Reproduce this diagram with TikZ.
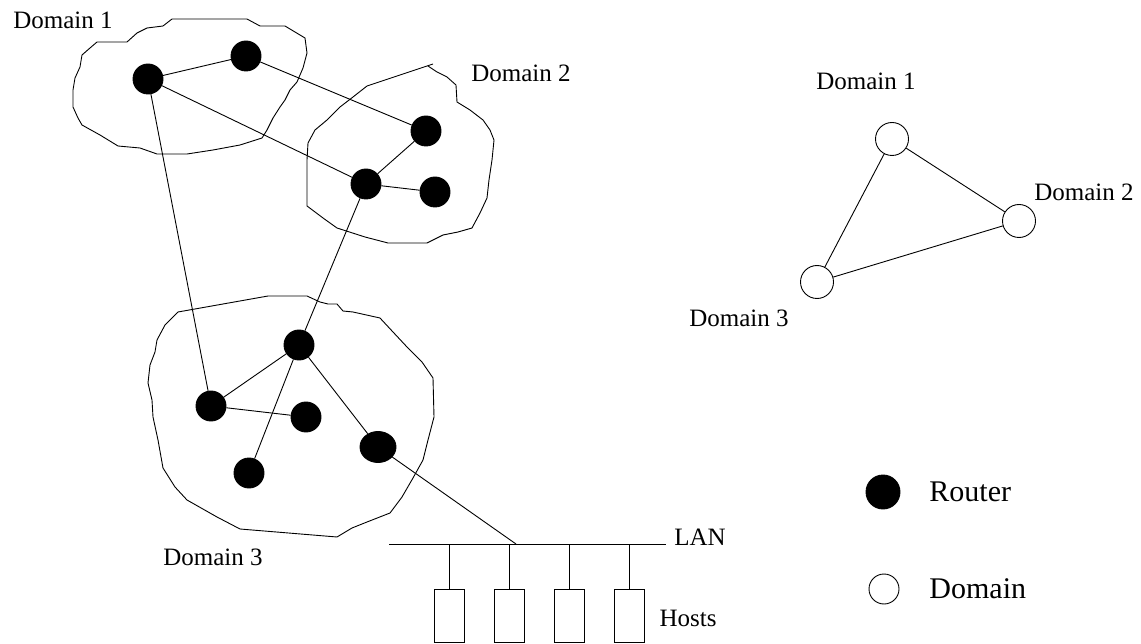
\documentclass[tikz,border=0pt]{standalone}
\usepackage{fontspec}
\setmainfont{Liberation Serif}
\usetikzlibrary{shapes.geometric}
\begin{document}
\begin{tikzpicture}[x=1pt,y=-1pt,line width=0.9pt,
  router/.style={circle,fill=black,draw=black,minimum size=30pt,inner sep=0pt},
  dom/.style={circle,draw=black,fill=white,minimum size=33pt,inner sep=0pt},
  blob/.style={draw=black,line width=0.9pt,line join=round},
  lbl/.style={inner sep=0pt,font=\fontsize{25}{30}\selectfont},
  leg/.style={inner sep=0pt,anchor=west,font=\fontsize{30}{36}\selectfont},
  host/.style={draw=black,minimum width=30pt,minimum height=53pt,inner sep=0pt},
  link/.style={draw=black,line width=0.9pt}]
\useasboundingbox (0,0) rectangle (1141,644);
% domain outlines
\draw[blob] (97,42)--(127,42)--(137,33)--(147,28)--(163,26)--(172,19)--(247,19)--(260,26)--(285,26)--(295,32)--(305,38)--(307,53)--(303,68)--(297,82)--(290,90)--(285,100)--(280,107)--(273,118)--(267,130)--(262,138)--(240,145)--(213,150)--(187,154)--(157,154)--(140,148)--(118,146)--(100,135)--(82,125)--(78,118)--(73,107)--(73,90)--(75,78)--(80,67)--(82,55)--(90,48)--cycle;
\draw[blob] (433,64)--(367,86)--(353,97)--(340,107)--(327,120)--(315,130)--(308,143)--(307,160)--(307,206)--(323,218)--(337,228)--(365,237)--(388,243)--(427,243)--(443,235)--(458,232)--(472,228)--(480,213)--(487,198)--(489,180)--(492,160)--(494,140)--(490,130)--(483,120)--(470,110)--(457,102)--(456,85)--(447,77)--(437,72)--(428,66);
\draw[blob] (178,312)--(268,296)--(307,296)--(320,302)--(328,304)--(337,304)--(343,311)--(353,312)--(380,318)--(393,332)--(407,347)--(422,362)--(433,378)--(434,417)--(428,440)--(423,460)--(413,478)--(402,497)--(390,513)--(367,522)--(352,528)--(337,537)--(240,529)--(217,517)--(187,500)--(175,487)--(163,468)--(158,440)--(153,417)--(152,400)--(148,383)--(150,365)--(155,352)--(157,340)--(165,325)--(173,317)--cycle;
% routers
\node[router] (A) at (148,79) {};
\node[router] (B) at (246,56) {};
\node[router] (C) at (426,131) {};
\node[router] (D) at (366,184) {};
\node[router] (E) at (435,192) {};
\node[router] (F) at (299,345) {};
\node[router] (G) at (211,406) {};
\node[router] (H) at (306,417) {};
\node[ellipse,fill=black,draw=black,minimum width=36pt,minimum height=31pt,inner sep=0pt] (I) at (378,447) {};
\node[router] (J) at (249,473) {};
% links
\draw[link] (A)--(B);
\draw[link] (B)--(C);
\draw[link] (A)--(D);
\draw[link] (C)--(D);
\draw[link] (D)--(E);
\draw[link] (D)--(F);
\draw[link] (A)--(G);
\draw[link] (F)--(G);
\draw[link] (G)--(H);
\draw[link] (F)--(J);
\draw[link] (F)--(I);
% LAN
\coordinate (lanL) at (389,544);
\coordinate (lanR) at (666,544);
\coordinate (lanI) at (516,544);
\draw[link] (lanL)--(lanR);
\draw[link] (I)--(lanI);
\node[host,anchor=north] (h1) at (449,589) {};
\node[host,anchor=north] (h2) at (509,589) {};
\node[host,anchor=north] (h3) at (569,589) {};
\node[host,anchor=north] (h4) at (629,589) {};
\foreach \i/\x in {1/449,2/509,3/569,4/629}{
  \coordinate (t\i) at (\x,544);
  \draw[link] (t\i)--(h\i.north);
}
% labels
\node[lbl] (l1) at (63,20) {Domain 1};
\node[lbl] (l2) at (521,73) {Domain 2};
\node[lbl] (l3) at (213,557) {Domain 3};
\node[lbl] (lan) at (700,537) {LAN};
\node[lbl] (hosts) at (688,618) {Hosts};
% domain graph
\node[dom] (D1) at (892,139) {};
\node[dom] (D2) at (1019,221) {};
\node[dom] (D3) at (817,282) {};
\draw[link] (D1)--(D2);
\draw[link] (D1)--(D3);
\draw[link] (D2)--(D3);
\node[lbl] (t1) at (866,81) {Domain 1};
\node[lbl] (t2) at (1084,192) {Domain 2};
\node[lbl] (t3) at (739,318) {Domain 3};
% legend
\node[router,minimum size=34pt] (lr) at (883,492) {};
\node[leg] (lrt) at (929,492) {Router};
\node[dom,minimum size=30pt] (ld) at (884,589) {};
\node[leg] (ldt) at (929,589) {Domain};
\end{tikzpicture}
\end{document}
